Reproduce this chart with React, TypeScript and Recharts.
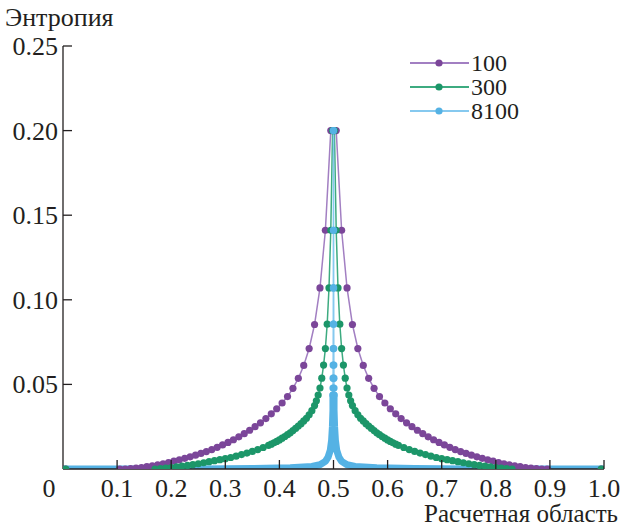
import React from 'react';
import { LineChart, Line, XAxis, YAxis } from 'recharts';

// axis ticks
const X_TICKS = [0, 0.1, 0.2, 0.3, 0.4, 0.5, 0.6, 0.7, 0.8, 0.9, 1.0];
const X_TICK_LABELS = ['0', '0.1', '0.2', '0.3', '0.4', '0.5', '0.6', '0.7', '0.8', '0.9', '1.0'];
const Y_TICKS = [0.05, 0.1, 0.15, 0.2, 0.25];
const Y_TICK_LABELS = ['0.05', '0.10', '0.15', '0.20', '0.25'];

// grid with 100 cells
const N100_X = [
  0.005, 0.105, 0.115, 0.125, 0.135, 0.145, 0.155, 0.165, 0.175, 0.185, 0.195,
  0.205, 0.215, 0.225, 0.235, 0.245, 0.255, 0.265, 0.275, 0.285, 0.295,
  0.305, 0.315, 0.325, 0.335, 0.345, 0.355, 0.365, 0.375, 0.385, 0.395,
  0.405, 0.415, 0.425, 0.435, 0.445, 0.455, 0.465, 0.475, 0.485, 0.495,
  0.505, 0.515, 0.525, 0.535, 0.545, 0.555, 0.565, 0.575, 0.585, 0.595,
  0.605, 0.615, 0.625, 0.635, 0.645, 0.655, 0.665, 0.675, 0.685, 0.695,
  0.705, 0.715, 0.725, 0.735, 0.745, 0.755, 0.765, 0.775, 0.785, 0.795,
  0.805, 0.815, 0.825, 0.835, 0.845, 0.855, 0.865, 0.875, 0.885, 0.895, 0.995,
];
const N100_Y = [
  0, 0, 0, 0.0002, 0.0005, 0.0009, 0.0014, 0.0019, 0.0025, 0.0031, 0.0038,
  0.0046, 0.0054, 0.0063, 0.0072, 0.0082, 0.0092, 0.0103, 0.0115, 0.0128, 0.0142,
  0.0157, 0.0173, 0.019, 0.0209, 0.0229, 0.025, 0.0273, 0.0298, 0.0326, 0.0356,
  0.039, 0.0428, 0.0477, 0.0536, 0.0612, 0.0712, 0.0854, 0.107, 0.1411, 0.2,
  0.2, 0.1411, 0.107, 0.0854, 0.0712, 0.0612, 0.0536, 0.0477, 0.0428, 0.039,
  0.0356, 0.0326, 0.0298, 0.0273, 0.025, 0.0229, 0.0209, 0.019, 0.0173, 0.0157,
  0.0142, 0.0128, 0.0115, 0.0103, 0.0092, 0.0082, 0.0072, 0.0063, 0.0054, 0.0046,
  0.0038, 0.0031, 0.0025, 0.0019, 0.0014, 0.0009, 0.0005, 0.0002, 0, 0, 0,
];

// grid with 300 cells
const N300_X = [
  0.005, 0.17, 0.18, 0.19, 0.2, 0.21, 0.22, 0.23, 0.24, 0.25, 0.26, 0.27, 0.28, 0.29,
  0.3, 0.31, 0.32, 0.33, 0.34, 0.35, 0.36, 0.37, 0.38, 0.385, 0.39, 0.395, 0.4, 0.405,
  0.41, 0.415, 0.42, 0.425, 0.43, 0.435, 0.44, 0.445, 0.45, 0.455, 0.46, 0.465,
  0.46833, 0.47167, 0.475, 0.47833, 0.48167, 0.485, 0.48833, 0.49167, 0.495, 0.49833,
  0.50167, 0.505, 0.50833, 0.51167, 0.515, 0.51833, 0.52167, 0.525, 0.52833, 0.53167,
  0.535, 0.54, 0.545, 0.55, 0.555, 0.56, 0.565, 0.57, 0.575, 0.58, 0.585, 0.59, 0.595,
  0.6, 0.605, 0.61, 0.615, 0.62, 0.63, 0.64, 0.65, 0.66, 0.67, 0.68, 0.69, 0.7,
  0.71, 0.72, 0.73, 0.74, 0.75, 0.76, 0.77, 0.78, 0.79, 0.8, 0.81, 0.82, 0.83, 0.995,
];
const N300_Y = [
  0, 0, 0.0002, 0.0005, 0.0008, 0.0012, 0.0017, 0.0021, 0.0026, 0.0031, 0.0037, 0.0043, 0.0049, 0.0055,
  0.0061, 0.0068, 0.0076, 0.0085, 0.0094, 0.0104, 0.0115, 0.0127, 0.014, 0.0147, 0.0155, 0.0163, 0.0172, 0.0182,
  0.0192, 0.0203, 0.0214, 0.0227, 0.024, 0.0254, 0.0268, 0.0284, 0.03, 0.032, 0.0345, 0.0375,
  0.0403, 0.0437, 0.0478, 0.0537, 0.0614, 0.0712, 0.0856, 0.107, 0.1411, 0.2,
  0.2, 0.1411, 0.107, 0.0856, 0.0712, 0.0614, 0.0537, 0.0478, 0.0437, 0.0403,
  0.0375, 0.0345, 0.032, 0.03, 0.0284, 0.0268, 0.0254, 0.024, 0.0227, 0.0214, 0.0203, 0.0192, 0.0182,
  0.0172, 0.0163, 0.0155, 0.0147, 0.014, 0.0127, 0.0115, 0.0104, 0.0094, 0.0085, 0.0076, 0.0068, 0.0061,
  0.0055, 0.0049, 0.0043, 0.0037, 0.0031, 0.0026, 0.0021, 0.0017, 0.0012, 0.0008, 0.0005, 0.0002, 0, 0,
];

// grid with 8100 cells: dense band (baseline + foot of the peak) and the discrete top of the peak
const N8100_BASE_X = [
  0, 0.25, 0.35, 0.42, 0.46, 0.475, 0.485, 0.49, 0.494, 0.4965, 0.498, 0.499, 0.49895,
  0.50105, 0.501, 0.502, 0.5035, 0.506, 0.51, 0.515, 0.525, 0.54, 0.58, 0.65, 0.75, 1.0,
];
const N8100_BASE_Y = [
  0, 0, 0.0003, 0.0008, 0.0015, 0.0025, 0.0045, 0.007, 0.011, 0.017, 0.025, 0.035, 0.0437,
  0.0437, 0.035, 0.025, 0.017, 0.011, 0.007, 0.0045, 0.0025, 0.0015, 0.0008, 0.0003, 0, 0,
];
const N8100_PEAK_X = [
  0.49895, 0.49907, 0.4992, 0.49932, 0.49944, 0.49957, 0.49969, 0.49981, 0.49994,
  0.50006, 0.50019, 0.50031, 0.50043, 0.50056, 0.50068, 0.5008, 0.50093, 0.50105,
];
const N8100_PEAK_Y = [
  0.0437, 0.0478, 0.0537, 0.0614, 0.0712, 0.0856, 0.107, 0.1411, 0.2,
  0.2, 0.1411, 0.107, 0.0856, 0.0712, 0.0614, 0.0537, 0.0478, 0.0437,
];

const SERIES_NAMES = ['100', '300', '8100'];
const LINE_COLORS = ['#a27fc2', '#3dab80', '#86c9ef'];
const DOT_COLORS = ['#7b4699', '#1c9669', '#55b2e4'];

const FONT = 'Liberation Serif, Times New Roman, serif';
const FONT_SIZE = 26;
const AXIS = '#231f20';

const toPoints = (xs: number[], ys: number[]) => xs.map((x, i) => ({ x, y: ys[i] }));

const XTick = (props: any) => {
  const { x, y, payload, index } = props;
  const label = X_TICK_LABELS[index] ?? String(payload.value);
  const isZero = payload.value === 0;
  return (
    <g>
      {!isZero && <line x1={x} x2={x} y1={y} y2={y - 9} stroke={AXIS} strokeWidth={1.3} />}
      <text
        x={isZero ? x - 14 : x}
        y={y + 28}
        textAnchor="middle"
        style={{ fontFamily: FONT, fontSize: FONT_SIZE }}
        fill="#231f20"
      >
        {label}
      </text>
    </g>
  );
};

const YTick = (props: any) => {
  const { x, y, payload, index } = props;
  const label = Y_TICK_LABELS[index] ?? String(payload.value);
  return (
    <g>
      <line x1={x} x2={x + 9} y1={y} y2={y} stroke={AXIS} strokeWidth={1.3} />
      <text x={x - 5} y={y + 9} textAnchor="end" style={{ fontFamily: FONT, fontSize: FONT_SIZE }} fill="#231f20">
        {label}
      </text>
    </g>
  );
};

const LegendBox = () => (
  <div
    style={{
      position: 'absolute',
      left: 410,
      top: 51,
      fontFamily: FONT,
      fontSize: 24,
      lineHeight: '24px',
      color: '#231f20',
    }}
  >
    {SERIES_NAMES.map((name, i) => (
      <div key={name} style={{ display: 'flex', alignItems: 'center', height: 24 }}>
        <svg width={59} height={24}>
          <line x1={0} x2={59} y1={12} y2={12} stroke={LINE_COLORS[i]} strokeWidth={2} />
          <circle cx={29} cy={12} r={3.6} fill={DOT_COLORS[i]} />
        </svg>
        <span style={{ marginLeft: 2 }}>{name}</span>
      </div>
    ))}
  </div>
);

export default function App() {
  const d100 = toPoints(N100_X, N100_Y);
  const d300 = toPoints(N300_X, N300_Y);
  const d8100Base = toPoints(N8100_BASE_X, N8100_BASE_Y);
  const d8100Peak = toPoints(N8100_PEAK_X, N8100_PEAK_Y);

  return (
    <div style={{ position: 'absolute', left: 0, top: 0, width: 620, height: 527, background: '#fff' }}>
      <LineChart width={620} height={527} margin={{ top: 46, right: 16, bottom: 0, left: 0 }}>
        <XAxis
          type="number"
          dataKey="x"
          domain={[0, 1]}
          ticks={X_TICKS}
          height={58}
          tickSize={0}
          tickMargin={0}
          tickLine={false}
          stroke={AXIS}
          strokeWidth={1.3}
          tick={<XTick />}
          allowDataOverflow
        />
        <YAxis
          type="number"
          dataKey="y"
          domain={[0, 0.25]}
          ticks={Y_TICKS}
          width={63}
          tickSize={0}
          tickMargin={0}
          tickLine={false}
          stroke={AXIS}
          strokeWidth={1.3}
          tick={<YTick />}
          allowDataOverflow
        />
        <Line
          data={d100}
          dataKey="y"
          name={SERIES_NAMES[0]}
          stroke={LINE_COLORS[0]}
          strokeWidth={1.5}
          dot={{ r: 3.6, fill: DOT_COLORS[0], stroke: 'none' }}
          isAnimationActive={false}
        />
        <Line
          data={d300}
          dataKey="y"
          name={SERIES_NAMES[1]}
          stroke={LINE_COLORS[1]}
          strokeWidth={1.5}
          dot={{ r: 3.6, fill: DOT_COLORS[1], stroke: 'none' }}
          isAnimationActive={false}
        />
        <Line
          data={d8100Base}
          dataKey="y"
          name={SERIES_NAMES[2]}
          stroke={DOT_COLORS[2]}
          strokeWidth={7}
          strokeLinecap="round"
          strokeLinejoin="round"
          dot={false}
          legendType="none"
          isAnimationActive={false}
        />
        <Line
          data={d8100Peak}
          dataKey="y"
          name={SERIES_NAMES[2]}
          stroke={LINE_COLORS[2]}
          strokeWidth={1.5}
          dot={{ r: 3.6, fill: DOT_COLORS[2], stroke: 'none' }}
          isAnimationActive={false}
        />
      </LineChart>
      <LegendBox />
      <div
        style={{
          position: 'absolute',
          left: 5,
          top: 3,
          fontFamily: FONT,
          fontSize: FONT_SIZE,
          lineHeight: 'normal',
          color: '#231f20',
        }}
      >
        Энтропия
      </div>
      <div
        style={{
          position: 'absolute',
          right: 2,
          top: 503,
          fontFamily: FONT,
          fontSize: 25,
          lineHeight: '22px',
          color: '#231f20',
        }}
      >
        Расчетная область
      </div>
    </div>
  );
}
